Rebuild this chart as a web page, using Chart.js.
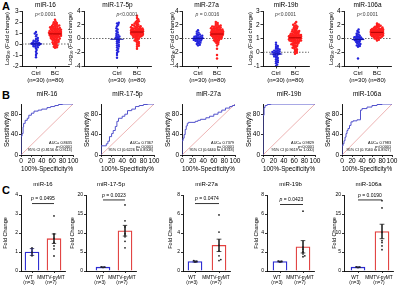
<!DOCTYPE html>
<html>
<head>
<meta charset="utf-8">
<script src="https://cdn.jsdelivr.net/npm/chart.js@4.4.1/dist/chart.umd.min.js"></script>
<style>
  html, body { margin: 0; padding: 0; background: #fff; }
  #fig { position: relative; width: 400px; height: 291px; overflow: hidden; font-family: 'Liberation Sans', Arial, sans-serif; }
  .pn { position: absolute; }
  .lt { position: absolute; font-weight: bold; font-size: 11px; line-height: 11px; }
</style>
</head>
<body>
<div id="fig">
  <div class="lt" style="left:2px;top:1px">A</div>
  <div class="lt" style="left:2px;top:90px">B</div>
  <div class="lt" style="left:2px;top:185px">C</div>
</div>
<script>
// ---------- data ----------
const mirNames = ['miR-16', 'miR-17-5p', 'miR-27a', 'miR-19b', 'miR-106a'];

// A: log10 fold change, Ctrl (n=30) and BC (n=80)
const ctrl16 = [1.1, 0.95, 0.85, 0.7, 0.55, 0.45, 0.35, 0.3, 0.25, 0.2, 0.15, 0.1, 0.08, 0.05, 0.02, 0.0, -0.02, -0.05, -0.08, -0.1, -0.15, -0.2, -0.25, -0.3, -0.4, -0.55, -0.7, -0.85, -1.0, -1.2];
const bc16 = [2.21, 2.05, 1.98, 1.92, 1.86, 1.8, 1.76, 1.71, 1.68, 1.64,
  1.6, 1.57, 1.55, 1.52, 1.49, 1.46, 1.44, 1.41, 1.39, 1.36,
  1.34, 1.31, 1.29, 1.27, 1.25, 1.22, 1.2, 1.18, 1.16, 1.14,
  1.12, 1.1, 1.08, 1.06, 1.04, 1.02, 1.0, 0.99, 0.97, 0.95,
  0.93, 0.91, 0.89, 0.87, 0.85, 0.83, 0.81, 0.79, 0.77, 0.75,
  0.73, 0.71, 0.68, 0.66, 0.63, 0.61, 0.58, 0.55, 0.52, 0.49,
  0.46, 0.43, 0.4, 0.36, 0.33, 0.29, 0.25, 0.21, 0.17, 0.12,
  0.08, 0.03, -0.02, -0.08, -0.13, -0.19, -0.25, -0.3, -0.35, 1.03];
const ctrl17 = [2.3, 2.2, 2.0, 1.8, 1.5, 1.3, 1.1, 0.9, 0.7, 0.55, 0.4, 0.3, 0.2, 0.1, 0.0, -0.1, -0.25, -0.4, -0.55, -0.7, -0.9, -1.0, -1.15, -1.3, -1.5, -1.7, -1.9, -2.1, -2.4, -2.8];
const bc17 = [3.3, 3.0, 2.8, 2.6, 2.5, 2.4, 2.3, 2.2, 2.1, 2.05,
  1.95, 1.9, 1.85, 1.8, 1.75, 1.7, 1.65, 1.6, 1.55, 1.5,
  1.47, 1.44, 1.4, 1.37, 1.34, 1.3, 1.27, 1.24, 1.21, 1.18,
  1.15, 1.12, 1.1, 1.07, 1.04, 1.02, 1.0, 0.97, 0.95, 0.92,
  0.9, 0.88, 0.85, 0.83, 0.8, 0.78, 0.75, 0.72, 0.7, 0.67,
  0.64, 0.61, 0.58, 0.55, 0.51, 0.48, 0.44, 0.4, 0.36, 0.32,
  0.27, 0.22, 0.17, 0.1, 0.03, -0.05, -0.13, -0.22, -0.3, -0.4,
  -0.5, -0.62, -0.75, -0.9, -1.05, -1.2, -1.5, 1.12, 0.96, 1.33];
const ctrl27 = [1.2, 1.0, 0.85, 0.7, 0.6, 0.5, 0.42, 0.35, 0.3, 0.25, 0.2, 0.15, 0.1, 0.06, 0.02, -0.02, -0.06, -0.1, -0.15, -0.2, -0.25, -0.3, -0.35, -0.42, -0.5, -0.6, -0.7, -0.8, -0.9, -1.0];
const bc27 = [2.4, 2.25, 2.1, 2.0, 1.9, 1.85, 1.8, 1.75, 1.7, 1.65,
  1.6, 1.55, 1.5, 1.45, 1.4, 1.36, 1.32, 1.28, 1.24, 1.2,
  1.16, 1.12, 1.08, 1.04, 1.0, 0.97, 0.94, 0.91, 0.88, 0.85,
  0.82, 0.79, 0.76, 0.73, 0.7, 0.67, 0.64, 0.61, 0.58, 0.55,
  0.52, 0.49, 0.46, 0.43, 0.4, 0.37, 0.34, 0.3, 0.26, 0.22,
  0.18, 0.14, 0.1, 0.06, 0.02, -0.03, -0.08, -0.13, -0.18, -0.24,
  -0.3, -0.37, -0.45, -0.55, -0.65, -0.8, -1.0, -1.5, -2.4, -2.9,
  1.02, 0.88, 0.6, 1.3, 0.75, 1.12, 0.5, 0.95, 0.68, 1.5];
const ctrl19 = [0.7, 0.55, 0.45, 0.38, 0.3, 0.25, 0.2, 0.15, 0.12, 0.08, 0.05, 0.02, 0.0, -0.03, -0.06, -0.1, -0.13, -0.17, -0.2, -0.25, -0.3, -0.35, -0.42, -0.5, -0.58, -0.65, -0.72, -0.8, -0.9, -1.0];
const bc19 = [2.2, 2.1, 2.0, 1.95, 1.9, 1.85, 1.8, 1.76, 1.72, 1.68,
  1.64, 1.6, 1.57, 1.54, 1.51, 1.48, 1.45, 1.42, 1.39, 1.36,
  1.33, 1.3, 1.28, 1.26, 1.24, 1.22, 1.2, 1.18, 1.16, 1.14,
  1.12, 1.1, 1.08, 1.06, 1.04, 1.02, 1.0, 0.98, 0.96, 0.94,
  0.92, 0.9, 0.88, 0.86, 0.84, 0.82, 0.8, 0.78, 0.76, 0.73,
  0.7, 0.67, 0.64, 0.61, 0.58, 0.55, 0.52, 0.48, 0.44, 0.4,
  0.36, 0.32, 0.27, 0.22, 0.16, 0.1, 0.04, -0.03, -0.1, 1.5,
  1.15, 1.05, 0.95, 1.25, 1.35, 0.85, 1.01, 1.11, 0.91, 1.21];
const ctrl106 = [1.3, 1.1, 0.9, 0.75, 0.6, 0.5, 0.4, 0.3, 0.25, 0.2, 0.15, 0.1, 0.05, 0.0, -0.05, -0.1, -0.15, -0.2, -0.27, -0.35, -0.42, -0.5, -0.6, -0.7, -0.8, -0.9, -1.0, -1.1, -1.2, -2.9];
const bc106 = [2.2, 2.05, 1.95, 1.85, 1.78, 1.72, 1.66, 1.6, 1.55, 1.5,
  1.46, 1.42, 1.38, 1.34, 1.3, 1.27, 1.24, 1.21, 1.18, 1.15,
  1.12, 1.1, 1.07, 1.05, 1.02, 1.0, 0.98, 0.96, 0.94, 0.92,
  0.9, 0.88, 0.86, 0.84, 0.82, 0.8, 0.78, 0.76, 0.74, 0.72,
  0.7, 0.68, 0.66, 0.64, 0.62, 0.6, 0.57, 0.54, 0.51, 0.48,
  0.45, 0.42, 0.38, 0.34, 0.3, 0.26, 0.22, 0.17, 0.12, 0.06,
  0.0, -0.08, -0.18, -0.3, 0.95, 1.08, 0.85, 0.75, 1.2, 0.65,
  1.0, 0.9, 0.8, 1.14, 0.7, 0.56, 1.32, 0.99, 0.87, 0.77];
const ctrlA = [ctrl16, ctrl17, ctrl27, ctrl19, ctrl106];
const bcA = [bc16, bc17, bc27, bc19, bc106];
const yMinA = [-2, -4, -4, -1, -4];
const yMaxA = [3, 4, 4, 3, 4];
const yStepA = [1, 2, 2, 1, 2];
const pA = ['<0.0001', '<0.0001', ' = 0.0016', '<0.0001', '<0.0001'];
const xLabA = [['Ctrl', '(n=30)'], ['BC', '(n=80)']];

// B: ROC curves (100%-specificity, sensitivity)
const rocFpr16 = [0, 2, 4, 5, 8, 12, 15, 20, 25, 33, 40, 50, 57, 65, 72, 80, 100];
const rocTpr16 = [0, 37, 42, 55, 62, 68, 72, 78, 82, 86, 88, 90, 93, 95, 97, 99, 100];
const rocFpr17 = [0, 10, 13, 16, 20, 23, 27, 30, 33, 40, 45, 50, 58, 65, 72, 80, 88, 100];
const rocTpr17 = [0, 18, 22, 27, 36, 42, 48, 56, 66, 72, 76, 80, 87, 90, 95, 97, 99, 100];
const rocFpr27 = [0, 2, 4, 6, 8, 10, 12, 25, 30, 35, 45, 52, 60, 68, 75, 82, 90, 95, 100, 100];
const rocTpr27 = [0, 28, 33, 40, 50, 57, 62, 64, 66, 68, 70, 73, 76, 80, 84, 88, 92, 95, 97, 100];
const rocFpr19 = [0, 2, 4, 8, 15, 100];
const rocTpr19 = [0, 78, 93, 97, 99, 100];
const rocFpr106 = [0, 2, 4, 6, 8, 10, 12, 15, 18, 22, 30, 37, 40, 50, 60, 70, 80, 100];
const rocTpr106 = [0, 18, 22, 28, 35, 42, 48, 52, 58, 65, 67, 69, 88, 91, 94, 97, 99, 100];
const rocFpr = [rocFpr16, rocFpr17, rocFpr27, rocFpr19, rocFpr106];
const rocTpr = [rocTpr16, rocTpr17, rocTpr27, rocTpr19, rocTpr106];
const aucText = ['AUC= 0.8635', 'AUC= 0.7367', 'AUC= 0.7379', 'AUC= 0.9829', 'AUC= 0.7983'];
const aucP = ['p<0.0001', 'p= 0.0001', 'p= 0.0001', 'p<0.0001', 'p<0.0001'];
const aucCI = ['95% CI (0.8156 to 0.9113)', '95% CI (0.6226 to 0.8508)', '95% CI (0.6440 to 0.8318)', '95% CI (0.9619 to 1.000)', '95% CI (0.7040 to 0.8927)'];

// C: fold change, WT (n=3) vs MMTV-pyMT (n=7)
const wtPts = [[1.22, 0.98, 0.8], [1.08, 1.0, 0.93], [1.1, 1.0, 0.95], [1.05, 1.0, 0.95], [1.1, 1.0, 0.9]];
const mmPts = [
  [2.9, 1.95, 1.72, 1.5, 1.32, 1.16, 0.79],
  [17.4, 13.2, 11.6, 9.8, 9.0, 7.8, 6.1],
  [5.9, 4.1, 2.7, 2.1, 1.6, 1.2, 1.1],
  [6.3, 2.5, 2.3, 2.0, 1.8, 1.6, 1.5],
  [18.5, 16.6, 10.2, 8.0, 7.5, 6.6, 5.6]
];
const wtMean = [1.0, 1.0, 1.0, 1.0, 1.0];
const wtSem = [0.18, 0.08, 0.06, 0.05, 0.1];
const mmMean = [1.7, 10.6, 2.7, 2.55, 10.4];
const mmSem = [0.25, 1.4, 0.65, 0.65, 1.9];
const yMaxC = [4, 20, 8, 8, 20];
const yStepC = [1, 5, 2, 2, 5];
const bracketC = [3.55, 18.7, 7.1, 7.0, 18.7];
const pC = [' = 0.0495', ' = 0.0023', ' = 0.0474', ' = 0.0423', ' = 0.0190'];
const xLabC = [['WT', '(n=3)'], ['MMTV-pyMT', '(n=7)']];

// ---------- layout ----------
const FONT = "'Liberation Sans', Arial, sans-serif";
const BLUE = '#2323dc', RED = '#ff1e1e';
const fig = document.getElementById('fig');
const AT = 11, AB = 66, BT = 104, BB = 155, CT = 195, CB = 271;
const geomA = [
  { axis: 22, c0: 36, c1: 55, right: 69, padL: 18 },
  { axis: 84, c0: 117, c1: 137, right: 151, padL: 17 },
  { axis: 182, c0: 198, c1: 217, right: 231, padL: 13 },
  { axis: 263, c0: 276, c1: 295, right: 309, padL: 16 },
  { axis: 344, c0: 358, c1: 377, right: 391, padL: 16 }
];
const geomB = [
  { l: 21, r: 73 }, { l: 101, r: 154 }, { l: 182, r: 235 }, { l: 263, r: 315 }, { l: 342, r: 392 }
];
const geomC = [
  { axis: 21, c0: 32, c1: 54, right: 65, padL: 19 },
  { axis: 86, c0: 103, c1: 125, right: 136, padL: 17 },
  { axis: 183, c0: 195, c1: 219, right: 230, padL: 16 },
  { axis: 267, c0: 280, c1: 303, right: 314, padL: 14 },
  { axis: 344, c0: 358, c1: 382, right: 393, padL: 13 }
];

function mount(area, pad) {
  const d = document.createElement('div');
  d.className = 'pn';
  d.style.left = (area.l - pad.l) + 'px';
  d.style.top = (area.t - pad.t) + 'px';
  d.style.width = (area.r - area.l + pad.l + pad.r) + 'px';
  d.style.height = (area.b - area.t + pad.t + pad.b) + 'px';
  const c = document.createElement('canvas');
  d.appendChild(c);
  fig.appendChild(d);
  return c;
}

// text drawn relative to the chart area or data values
const textPlugin = {
  id: 'ptext',
  afterDraw(chart, args, opts) {
    const { ctx, chartArea: a, scales } = chart;
    (opts.items || []).forEach(it => {
      let x = it.xv != null ? scales.x.getPixelForValue(it.xv) : (a.left + a.right) / 2;
      let y = it.yv != null ? scales.y.getPixelForValue(it.yv) : a.top;
      if (it.ax === 'right') x = a.right;
      if (it.ay === 'bottom') y = a.bottom;
      x += it.dx || 0;
      y += it.dy || 0;
      const parts = it.parts || [[it.text, false]];
      const fnt = itl => (itl ? 'italic ' : '') + it.size + 'px ' + FONT;
      ctx.save();
      ctx.fillStyle = it.color || '#000';
      ctx.textBaseline = 'middle';
      ctx.textAlign = 'left';
      let total = 0;
      parts.forEach(([t, itl]) => { ctx.font = fnt(itl); total += ctx.measureText(t).width; });
      let sx = it.align === 'right' ? x - total : (it.align === 'left' ? x : x - total / 2);
      parts.forEach(([t, itl]) => { ctx.font = fnt(itl); ctx.fillText(t, sx, y); sx += ctx.measureText(t).width; });
      ctx.restore();
    });
  }
};

// place dots side by side so they do not pile up (pixel space)
function swarm(vals, center, pxX, pxY, dmin, maxW) {
  const order = vals.map((v, i) => i).sort((i, j) => vals[i] - vals[j]);
  const placed = [];
  const out = new Array(vals.length);
  order.forEach(i => {
    const py = vals[i] * pxY;
    let best = 0, bestScore = -1;
    for (let k = 0; ; k++) {
      const off = (k % 2 ? 1 : -1) * Math.ceil(k / 2) * 0.6;
      if (Math.abs(off) > maxW) break;
      let mind = Infinity;
      placed.forEach(p => { const dd = Math.hypot(p[0] - off, p[1] - py); if (dd < mind) mind = dd; });
      if (mind >= dmin) { best = off; break; }
      if (mind > bestScore) { bestScore = mind; best = off; }
    }
    placed.push([best, py]);
    out[i] = { x: center + best / pxX, y: vals[i] };
  });
  return out;
}

const mean = a => a.reduce((s, v) => s + v, 0) / a.length;

function axisStyle(size) {
  return {
    offset: false,
    grid: { offset: false, drawOnChartArea: false, drawTicks: true, tickLength: 2.5, color: '#000', lineWidth: 0.8 },
    border: { color: '#000', width: 0.9 },
    ticks: { color: '#000', padding: 1, font: { size: size, family: FONT } }
  };
}

const baseOpts = pad => ({
  animation: false,
  responsive: true,
  maintainAspectRatio: false,
  events: [],
  layout: { padding: { left: 0, top: pad.t, right: pad.r, bottom: 0 } },
  plugins: { legend: { display: false }, tooltip: { enabled: false } }
});

// ---------- A: dot plots ----------
mirNames.forEach((name, i) => {
  const g = geomA[i];
  const unit = g.c1 - g.c0;
  const xmin = (g.axis - g.c0) / unit, xmax = (g.right - g.c0) / unit;
  const pxY = (AB - AT) / (yMaxA[i] - yMinA[i]);
  const pad = { l: g.padL, t: AT, r: 5, b: 20 };
  const canvas = mount({ l: g.axis, r: g.right, t: AT, b: AB }, pad);
  const mc = mean(ctrlA[i]), mb = mean(bcA[i]);
  const opts = baseOpts(pad);
  opts.plugins.ptext = { items: [
    { text: name, size: 6.5, dy: -6 },
    { parts: [['p', true], [pA[i], false]], size: 5, color: '#444', xv: 0.5, dy: 4 }
  ] };
  const xs = axisStyle(6), ys = axisStyle(6.5);
  opts.scales = {
    x: Object.assign(xs, {
      type: 'linear', min: xmin, max: xmax,
      afterFit: s => { s.height = pad.b; },
      afterBuildTicks: s => { s.ticks = [{ value: 0 }, { value: 1 }]; },
      ticks: Object.assign(xs.ticks, { autoSkip: false, maxRotation: 0, callback: v => (v === 0 ? xLabA[0] : xLabA[1]) })
    }),
    y: Object.assign(ys, {
      min: yMinA[i], max: yMaxA[i],
      afterFit: s => { s.width = pad.l; },
      ticks: Object.assign(ys.ticks, { stepSize: yStepA[i] }),
      title: { display: true, text: 'Log₁₀ (Fold change)', color: '#000', font: { size: 6, family: FONT }, padding: { top: 0, bottom: 0 } }
    })
  };
  new Chart(canvas, {
    type: 'scatter',
    data: { datasets: [
      { type: 'line', data: [{ x: xmin, y: 0 }, { x: xmax, y: 0 }], borderColor: '#444', borderWidth: 0.8, borderDash: [1.5, 1.5], pointRadius: 0, order: 5 },
      { data: swarm(ctrlA[i], 0, unit, pxY, 1.7, 4.5), pointRadius: 1.2, borderWidth: 0, backgroundColor: BLUE, order: 2 },
      { data: swarm(bcA[i], 1, unit, pxY, 1.6, 6.5), pointRadius: 1.25, borderWidth: 0, backgroundColor: RED, order: 2 },
      { type: 'line', data: [{ x: -0.33, y: mc }, { x: 0.33, y: mc }], borderColor: '#1010a0', borderWidth: 1, pointRadius: 0, order: 1 },
      { type: 'line', data: [{ x: 0.67, y: mb }, { x: 1.33, y: mb }], borderColor: '#b00000', borderWidth: 1, pointRadius: 0, order: 1 }
    ] },
    options: opts,
    plugins: [textPlugin]
  });
});

// ---------- B: ROC ----------
mirNames.forEach((name, i) => {
  const g = geomB[i];
  const pad = { l: 18, t: 14, r: 7, b: 18 };
  const canvas = mount({ l: g.l, r: g.r, t: BT, b: BB }, pad);
  const opts = baseOpts(pad);
  opts.plugins.ptext = { items: [
    { text: name, size: 6.5, dy: -10 },
    { text: aucText[i], size: 3.8, align: 'right', ax: 'right', ay: 'bottom', dx: -1, dy: -12.3 },
    { text: aucP[i], size: 3.8, align: 'right', ax: 'right', ay: 'bottom', dx: -1, dy: -8.5 },
    { text: aucCI[i], size: 3.8, align: 'right', ax: 'right', ay: 'bottom', dx: -1, dy: -4.6 }
  ] };
  const xs = axisStyle(6.5), ys = axisStyle(6.5);
  xs.grid.tickLength = 2; ys.grid.tickLength = 2;
  xs.ticks.padding = 0.5;
  opts.scales = {
    x: Object.assign(xs, {
      type: 'linear', min: 0, max: 100,
      afterFit: s => { s.height = pad.b; },
      ticks: Object.assign(xs.ticks, { stepSize: 20, maxRotation: 0, autoSkip: false }),
      title: { display: true, text: '100%-Specificity%', color: '#000', font: { size: 6.8, family: FONT }, padding: { top: 0, bottom: 0 } }
    }),
    y: Object.assign(ys, {
      min: 0, max: 100,
      afterFit: s => { s.width = pad.l; },
      ticks: Object.assign(ys.ticks, { stepSize: 20 }),
      title: { display: true, text: 'Sensitivity%', color: '#000', font: { size: 6.5, family: FONT }, padding: { top: 0, bottom: 0 } }
    })
  };
  new Chart(canvas, {
    type: 'line',
    data: { datasets: [
      { data: [{ x: 0, y: 0 }, { x: 100, y: 100 }], borderColor: '#e9a0a0', borderWidth: 0.8, pointRadius: 0, order: 2 },
      { data: rocFpr[i].map((f, k) => ({ x: f, y: rocTpr[i][k] })), stepped: 'after', borderColor: '#5252cc', borderWidth: 1, pointRadius: 0, order: 1 }
    ] },
    options: opts,
    plugins: [textPlugin]
  });
});

// ---------- C: bar charts ----------
mirNames.forEach((name, i) => {
  const g = geomC[i];
  const unit = g.c1 - g.c0;
  const xmin = (g.axis - g.c0) / unit, xmax = (g.right - g.c0) / unit;
  const pxY = (CB - CT) / yMaxC[i];
  const pad = { l: g.padL, t: 14, r: 10, b: 20 };
  const canvas = mount({ l: g.axis, r: g.right, t: CT, b: CB }, pad);
  const opts = baseOpts(pad);
  opts.plugins.ptext = { items: [
    { text: name, size: 6, dy: -11 },
    { parts: [['p', true], [pC[i], false]], size: 5, xv: 0.5, yv: bracketC[i], dy: -4.5 }
  ] };
  const xs = axisStyle(4.8), ys = axisStyle(5);
  xs.grid.tickLength = 2; ys.grid.tickLength = 2;
  opts.scales = {
    x: Object.assign(xs, {
      type: 'linear', min: xmin, max: xmax,
      afterFit: s => { s.height = pad.b; },
      afterBuildTicks: s => { s.ticks = [{ value: 0 }, { value: 1 }]; },
      ticks: Object.assign(xs.ticks, { autoSkip: false, maxRotation: 0, labelOffset: -3, padding: 1.5, callback: v => (v === 0 ? xLabC[0] : xLabC[1]) })
    }),
    y: Object.assign(ys, {
      min: 0, max: yMaxC[i],
      afterFit: s => { s.width = pad.l; },
      ticks: Object.assign(ys.ticks, { stepSize: yStepC[i] }),
      title: { display: true, text: 'Fold Change', color: '#000', font: { size: 5.5, family: FONT }, padding: { top: 0, bottom: 0 } }
    })
  };
  const err = (c, m, s) => [
    { x: c - 0.1, y: m + s }, { x: c + 0.1, y: m + s }, { x: c, y: null },
    { x: c, y: m + s }, { x: c, y: m - s }, { x: c, y: null },
    { x: c - 0.1, y: m - s }, { x: c + 0.1, y: m - s }
  ];
  new Chart(canvas, {
    type: 'bar',
    data: { datasets: [
      { data: [{ x: 0, y: wtMean[i] }, { x: 1, y: mmMean[i] }], backgroundColor: '#fff', borderColor: ['#2b2bd2', '#e2403f'], borderWidth: 1.3, barThickness: 14, order: 4 },
      { type: 'line', data: err(0, wtMean[i], wtSem[i]), borderColor: '#1a1a60', borderWidth: 0.8, pointRadius: 0, spanGaps: false, order: 2 },
      { type: 'line', data: err(1, mmMean[i], mmSem[i]), borderColor: '#222', borderWidth: 0.8, pointRadius: 0, spanGaps: false, order: 2 },
      { type: 'scatter', data: swarm(wtPts[i], 0, unit, pxY, 1.6, 3), pointRadius: 0.9, borderWidth: 0, backgroundColor: '#222', order: 1 },
      { type: 'scatter', data: swarm(mmPts[i], 1, unit, pxY, 1.6, 4), pointRadius: 0.9, borderWidth: 0, backgroundColor: '#222', order: 1 },
      { type: 'line', data: [{ x: 0, y: bracketC[i] }, { x: 1, y: bracketC[i] }], borderColor: '#000', borderWidth: 0.8, pointRadius: 0, order: 1 }
    ] },
    options: opts,
    plugins: [textPlugin]
  });
});
</script>
</body>
</html>
